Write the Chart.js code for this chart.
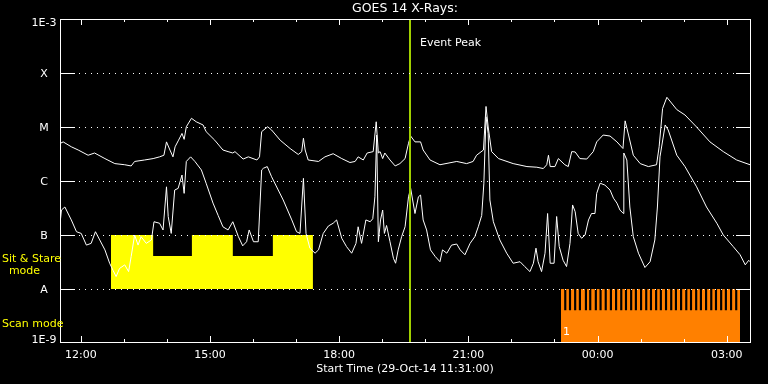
<!DOCTYPE html>
<html>
<head>
<meta charset="utf-8">
<script src="https://cdn.jsdelivr.net/npm/chart.js@4/dist/chart.umd.min.js"></script>
<style>
html,body{margin:0;padding:0;background:#000;}
#c{display:block;}
</style>
</head>
<body>
<canvas id="c" width="768" height="384"></canvas>
<script>
// ---- Time axis: decimal hours since 00:00 on 29-Oct-14 (24+ = next day) ----
const timeMin = 11.517;   // 11:31:00 start
const timeMax = 27.54;    // ~03:32 next day
const xTickHours = [12, 15, 18, 21, 24, 27];
const xTickLabels = ['12:00', '15:00', '18:00', '21:00', '00:00', '03:00'];

// ---- Flux axis (W/m^2) ----
const yTickValues = [1e-9, 1e-8, 1e-7, 1e-6, 1e-5, 1e-4, 1e-3];
const yTickLabels = ['1E-9', 'A', 'B', 'C', 'M', 'X', '1E-3'];

// ---- Long channel (1-8 A) ----
const longTimes = [11.53,11.59,11.78,11.94,12.17,12.32,12.56,12.79,13.02,13.17,13.25,13.48,13.68,13.83,13.93,13.99,14.07,14.14,14.19,14.27,14.35,14.40,14.45,14.57,14.68,14.84,14.91,15.11,15.30,15.42,15.53,15.58,15.77,15.89,16.09,16.15,16.20,16.34,16.43,16.63,16.86,17.05,17.13,17.17,17.21,17.28,17.52,17.67,17.86,18.06,18.25,18.37,18.44,18.56,18.65,18.79,18.86,18.91,18.95,19.01,19.06,19.18,19.30,19.41,19.53,19.61,19.66,19.76,19.89,19.95,20.11,20.34,20.73,20.96,21.11,21.19,21.35,21.41,21.46,21.54,21.70,22.04,22.36,22.59,22.74,22.82,22.86,22.90,23.01,23.09,23.24,23.32,23.40,23.48,23.59,23.75,23.90,23.98,24.13,24.29,24.45,24.59,24.64,24.72,24.83,24.99,25.18,25.37,25.43,25.51,25.61,25.84,26.03,26.30,26.61,26.92,27.23,27.54];
const longFlux = [5.0e-6,5.3e-6,4.3e-6,3.75e-6,3.0e-6,3.3e-6,2.6e-6,2.1e-6,2.0e-6,1.9e-6,2.3e-6,2.45e-6,2.6e-6,2.8e-6,3.0e-6,5.3e-6,3.75e-6,2.8e-6,4.3e-6,5.7e-6,7.6e-6,5.9e-6,1.01e-5,1.45e-5,1.25e-5,1.09e-5,8.2e-6,5.7e-6,3.75e-6,3.5e-6,3.3e-6,3.5e-6,2.55e-6,2.8e-6,2.45e-6,2.8e-6,8.2e-6,1.01e-5,8.8e-6,5.7e-6,4.0e-6,3.1e-6,3.5e-6,6.2e-6,3.75e-6,2.45e-6,2.3e-6,2.8e-6,3.2e-6,2.6e-6,2.2e-6,2.3e-6,2.8e-6,2.45e-6,3.3e-6,3.5e-6,1.25e-5,3.3e-6,3.5e-6,2.6e-6,3.3e-6,2.45e-6,1.9e-6,2.1e-6,2.6e-6,5.0e-6,6.8e-6,5.3e-6,5.3e-6,3.75e-6,2.45e-6,2.0e-6,2.3e-6,2.1e-6,2.3e-6,3.0e-6,3.75e-6,2.4e-5,1.0e-5,3.5e-6,2.6e-6,2.1e-6,1.85e-6,1.8e-6,1.7e-6,2.0e-6,3.0e-6,1.85e-6,1.85e-6,2.6e-6,2.0e-6,1.85e-6,3.5e-6,3.45e-6,2.6e-6,2.55e-6,3.5e-6,5.3e-6,7.1e-6,6.8e-6,5.3e-6,4.0e-6,1.3e-5,7.1e-6,3.0e-6,2.1e-6,1.85e-6,2.0e-6,4.3e-6,2.2e-5,3.55e-5,2.1e-5,1.67e-5,1.0e-5,5.3e-6,3.5e-6,2.45e-6,2.0e-6];

// ---- Short channel (0.5-4 A) ----
const shortTimes = [11.53,11.55,11.63,11.78,11.90,12.01,12.13,12.24,12.34,12.44,12.56,12.67,12.75,12.82,12.90,13.02,13.11,13.17,13.25,13.33,13.40,13.52,13.64,13.70,13.83,13.91,13.99,14.03,14.10,14.18,14.26,14.35,14.40,14.45,14.55,14.65,14.80,14.91,15.07,15.19,15.30,15.42,15.53,15.66,15.76,15.85,15.91,16.01,16.12,16.20,16.24,16.33,16.43,16.70,16.90,17.01,17.09,17.17,17.23,17.32,17.44,17.52,17.63,17.75,17.86,17.94,18.06,18.17,18.29,18.39,18.44,18.52,18.62,18.72,18.78,18.83,18.87,18.91,18.96,19.01,19.05,19.10,19.18,19.26,19.31,19.37,19.45,19.53,19.61,19.66,19.76,19.84,19.89,19.95,20.03,20.12,20.23,20.34,20.40,20.50,20.61,20.73,20.81,20.92,21.04,21.15,21.23,21.31,21.36,21.41,21.46,21.50,21.58,21.73,21.89,22.04,22.20,22.31,22.43,22.51,22.57,22.62,22.70,22.78,22.84,22.90,22.99,23.05,23.11,23.20,23.28,23.36,23.42,23.48,23.55,23.63,23.71,23.79,23.86,23.94,23.98,24.06,24.17,24.29,24.37,24.45,24.52,24.60,24.61,24.68,24.75,24.83,24.95,25.10,25.22,25.33,25.39,25.45,25.57,25.64,25.84,26.03,26.30,26.53,26.77,26.92,27.15,27.31,27.43,27.51,27.54];
const shortFlux = [2.0e-7,2.9e-7,3.3e-7,1.9e-7,1.15e-7,1.07e-7,6.5e-8,7.0e-8,1.15e-7,8.1e-8,5.3e-8,3.0e-8,2.2e-8,1.7e-8,2.4e-8,2.8e-8,2.1e-8,4.0e-8,1.0e-7,6.5e-8,9.3e-8,7.0e-8,8.1e-8,1.76e-7,1.65e-7,1.24e-7,7.8e-7,2.2e-7,1.07e-7,6.8e-7,7.3e-7,1.29e-6,5.9e-7,2.3e-6,2.8e-6,2.3e-6,1.6e-6,9.1e-7,3.9e-7,2.3e-7,1.42e-7,1.24e-7,1.76e-7,9.3e-8,6.3e-8,7.5e-8,1.24e-7,7.5e-8,7.5e-8,1.6e-6,1.72e-6,1.85e-6,1.2e-6,4.45e-7,1.9e-7,1.15e-7,1.07e-7,1.12e-6,1.07e-7,5.7e-8,4.6e-8,5.3e-8,1.07e-7,1.47e-7,1.65e-7,1.9e-7,8.7e-8,6.1e-8,4.6e-8,7.0e-8,1.42e-7,7.0e-8,1.9e-7,1.76e-7,2.0e-7,5.1e-7,7.1e-6,7.5e-8,1.9e-7,2.9e-7,1.07e-7,1.5e-7,7.5e-8,3.7e-8,3.0e-8,5.3e-8,9.3e-8,1.42e-7,5.1e-7,7.3e-7,2.5e-7,5.1e-7,5.5e-7,1.9e-7,1.24e-7,5.3e-8,4.0e-8,3.2e-8,5.3e-8,4.6e-8,6.5e-8,6.8e-8,5.3e-8,4.3e-8,7.0e-8,9.3e-8,1.42e-7,2.3e-7,9.1e-7,1.55e-5,7.6e-6,4.45e-7,1.76e-7,8.1e-8,4.6e-8,3.0e-8,3.2e-8,2.6e-8,2.1e-8,3.0e-8,5.7e-8,3.2e-8,2.1e-8,4.6e-8,2.5e-7,3.0e-8,3.0e-8,2.2e-7,6.1e-8,3.4e-8,2.6e-8,7.0e-8,3.6e-7,2.7e-7,1.07e-7,8.7e-8,1.0e-7,1.9e-7,2.5e-7,2.5e-7,5.9e-7,9.1e-7,8.4e-7,6.8e-7,4.8e-7,3.9e-7,2.9e-7,2.5e-7,3.3e-6,2.45e-6,3.3e-7,9.3e-8,4.6e-8,2.5e-8,3.2e-8,8.1e-8,3.3e-7,2.8e-6,1.09e-5,8.8e-6,3.0e-6,1.85e-6,7.8e-7,3.3e-7,1.65e-7,1.0e-7,6.1e-8,4.3e-8,2.8e-8,3.4e-8,3.2e-8];

// ---- Sit & Stare mode (stepped band: level holds from each time to the next) ----
const stareTimes = [12.70, 13.68, 14.58, 15.53, 16.46, 17.39];
const stareLevels = [1e-7, 4.1e-8, 1e-7, 4.1e-8, 1e-7, 1e-7];
const stareBase = 1e-8;

// ---- Scan mode band ----
const scanStart = 23.15, scanEnd = 27.31;
const scanTop = 1e-8, scanGapLow = 4.1e-9;
const scanGapTimes = [23.25,23.36,23.48,23.59,23.73,23.83,23.96,24.07,24.19,24.31,24.43,24.55,24.66,24.78,24.89,25.01,25.13,25.24,25.36,25.47,25.59,25.71,25.82,25.94,26.06,26.17,26.29,26.40,26.52,26.64,26.75,26.87,26.98,27.10,27.22];

// ---- Event peak ----
const eventPeakTime = 19.65;

const FONT = '"DejaVu Sans", sans-serif';
const zip = (xs, ys) => xs.map((t, i) => ({x: t, y: ys[i]}));

const decor = {
  id: 'decor',
  beforeDraw(chart) {
    const ctx = chart.ctx;
    ctx.save();
    ctx.fillStyle = '#000';
    ctx.fillRect(0, 0, chart.width, chart.height);
    ctx.restore();
  },
  afterDatasetsDraw(chart) {
    const {ctx, chartArea: a, scales: {x, y}} = chart;
    ctx.save();
    ctx.strokeStyle = '#fff';
    ctx.fillStyle = '#fff';
    ctx.lineWidth = 1;

    // Event peak line
    const ex = Math.round(x.getPixelForValue(eventPeakTime));
    ctx.strokeStyle = '#a0d000';
    ctx.lineWidth = 2;
    ctx.beginPath();
    ctx.moveTo(ex, a.top);
    ctx.lineTo(ex, a.bottom);
    ctx.stroke();
    ctx.lineWidth = 1;
    ctx.strokeStyle = '#fff';

    // Y levels: ticks + dotted grid
    yTickValues.forEach((v, i) => {
      const py = Math.round(y.getPixelForValue(v)) + 0.5;
      if (i > 0 && i < yTickValues.length - 1) {
        ctx.setLineDash([]);
        ctx.beginPath();
        ctx.moveTo(a.left, py); ctx.lineTo(a.left + 15, py);
        ctx.moveTo(a.right - 14, py); ctx.lineTo(a.right + 1, py);
        ctx.stroke();
        ctx.setLineDash([1, 5]);
        ctx.beginPath();
        ctx.moveTo(a.left + 19, py); ctx.lineTo(a.right - 16, py);
        ctx.stroke();
      }
    });
    ctx.setLineDash([]);

    // Frame
    ctx.strokeRect(a.left + 0.5, a.top + 0.5, a.right - a.left, a.bottom - a.top - 1);

    // X ticks (hourly minor, 3-hourly major), bottom & top
    for (let h = Math.ceil(timeMin); h <= Math.floor(timeMax); h++) {
      const px = Math.round(x.getPixelForValue(h)) + 0.5;
      const len = (h % 3 === 0) ? 6 : 3;
      ctx.beginPath();
      ctx.moveTo(px, a.bottom - 1); ctx.lineTo(px, a.bottom - 1 - len);
      ctx.moveTo(px, a.top); ctx.lineTo(px, a.top + len);
      ctx.stroke();
    }

    // Text
    ctx.textBaseline = 'middle';
    ctx.font = '11px ' + FONT;
    ctx.textAlign = 'center';
    xTickHours.forEach((h, i) => {
      ctx.fillText(xTickLabels[i], x.getPixelForValue(h), 355);
    });
    yTickValues.forEach((v, i) => {
      let py = y.getPixelForValue(v) + 1;
      py = Math.max(a.top + 4, Math.min(a.bottom - 3, py));
      ctx.fillText(yTickLabels[i], 44, py);
    });
    const cx = (a.left + a.right) / 2;
    ctx.fillText('Start Time (29-Oct-14 11:31:00)', cx, 369);
    ctx.font = '12.5px ' + FONT;
    ctx.fillText('GOES 14 X-Rays:', cx, 9);

    ctx.font = '11px ' + FONT;
    ctx.textAlign = 'left';
    ctx.fillText('Event Peak', ex + 10, 43);
    ctx.fillText('1', x.getPixelForValue(scanStart) + 2, 332);

    ctx.fillStyle = '#ffff00';
    ctx.fillText('Sit & Stare', 2, 259);
    ctx.fillText('Scan mode', 2, 324);
    ctx.textAlign = 'center';
    ctx.fillText('mode', 24.5, 271);
    ctx.restore();
  }
};

new Chart(document.getElementById('c'), {
  type: 'line',
  data: {
    datasets: [
      {
        label: 'Short',
        data: zip(shortTimes, shortFlux),
        borderColor: '#ffffff', borderWidth: 1, pointRadius: 0, tension: 0, fill: false
      },
      {
        label: 'Long',
        data: zip(longTimes, longFlux),
        borderColor: '#ffffff', borderWidth: 1, pointRadius: 0, tension: 0, fill: false
      },
      {
        type: 'bar',
        label: 'Scan gaps',
        data: scanGapTimes.map(t => ({x: t, y: [scanGapLow, scanTop]})),
        backgroundColor: '#000000', borderWidth: 0, barThickness: 1.5
      },
      {
        label: 'Scan mode',
        data: [{x: scanStart, y: scanTop}, {x: scanEnd, y: scanTop}],
        borderColor: 'rgba(0,0,0,0)', borderWidth: 0, pointRadius: 0,
        backgroundColor: '#ff8000', fill: {value: 1e-9}
      },
      {
        label: 'Sit & Stare',
        data: zip(stareTimes, stareLevels),
        stepped: 'before',
        borderColor: 'rgba(0,0,0,0)', borderWidth: 0, pointRadius: 0,
        backgroundColor: '#ffff00', fill: {value: stareBase}
      }
    ]
  },
  options: {
    responsive: false,
    devicePixelRatio: 1,
    animation: false,
    events: [],
    layout: {padding: {left: 60, top: 19, right: 18, bottom: 41}},
    plugins: {legend: {display: false}, tooltip: {enabled: false}, title: {display: false}},
    scales: {
      x: {type: 'linear', min: timeMin, max: timeMax, display: false, offset: false, grid: {offset: false}},
      y: {type: 'logarithmic', min: 1e-9, max: 1e-3, display: false}
    }
  },
  plugins: [decor]
});
</script>
</body>
</html>
